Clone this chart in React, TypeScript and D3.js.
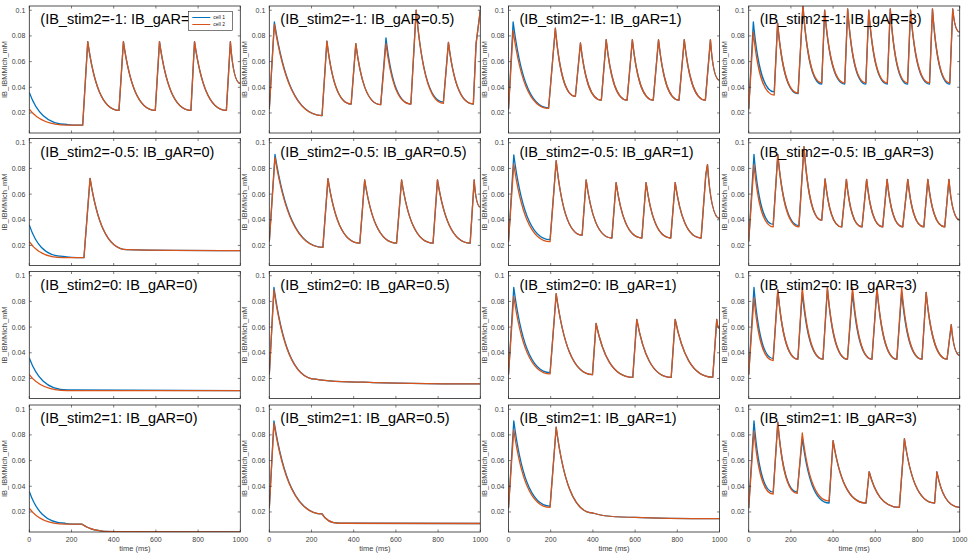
import * as d3 from 'd3';

type P = [number, number];

// panel titles
const stimLevels = ['-1', '-0.5', '0', '1'];
const garLevels = ['0', '0.5', '1', '3'];
const yTicks = [0.02, 0.04, 0.06, 0.08, 0.1];
const xTicks = [0, 200, 400, 600, 800, 1000];

// cell 2 key points [time ms, value]; cell 1 overrides at the same times
const r1c1: P[] = [[0,0.023],[180,0.0105],[253,0.0105],[277,0.0755],[425,0.022],[446,0.0755],[597,0.022],[617,0.0755],[766,0.022],[783,0.0755],[934,0.022],[953,0.0755],[1000,0.043]];
const r1c1b: P[] = [[0,0.036],[180,0.011]];
const r1c2: P[] = [[0,0.023],[24,0.089],[250,0.018],[273,0.076],[388,0.027],[410,0.074],[528,0.0265],[553,0.074],[671,0.027],[696,0.1],[825,0.0275],[849,0.075],[967,0.027],[980,0.074],[1000,0.1]];
const r1c2b: P[] = [[24,0.091],[553,0.0785],[825,0.0285]];
const r1c3: P[] = [[0,0.023],[22,0.084],[190,0.0235],[222,0.086],[317,0.033],[341,0.0745],[440,0.03],[463,0.077],[562,0.03],[587,0.077],[686,0.03],[711,0.077],[808,0.03],[833,0.077],[933,0.03],[957,0.077],[1000,0.0455]];
const r1c3b: P[] = [[22,0.091],[190,0.024]];
const r1c4: P[] = [[0,0.023],[22,0.083],[121,0.034],[137,0.09],[234,0.0355],[257,0.104],[346,0.0435],[360,0.1],[455,0.0435],[469,0.101],[555,0.0435],[569,0.1],[657,0.0435],[671,0.101],[753,0.0435],[767,0.1],[857,0.0435],[871,0.101],[953,0.0435],[967,0.101],[1000,0.083]];
const r1c4b: P[] = [[22,0.091],[121,0.0365],[234,0.035],[346,0.0425],[455,0.0425],[555,0.0425],[657,0.0425],[753,0.0425],[857,0.0425],[953,0.0425]];

const r2c1: P[] = [[0,0.023],[160,0.0105],[259,0.0105],[288,0.0723],[462,0.0167],[1000,0.016]];
const r2c1b: P[] = [[0,0.036],[160,0.0115]];
const r2c2: P[] = [[0,0.023],[27,0.0885],[254,0.0185],[278,0.072],[429,0.0218],[452,0.071],[603,0.0218],[627,0.071],[776,0.0218],[797,0.071],[952,0.0218],[971,0.071],[1000,0.05]];
const r2c2b: P[] = [[27,0.091]];
const r2c3: P[] = [[0,0.023],[25,0.0833],[197,0.023],[226,0.086],[349,0.028],[368,0.071],[490,0.0258],[510,0.069],[632,0.0258],[652,0.069],[769,0.0258],[790,0.069],[913,0.0258],[935,0.075],[943,0.083],[1000,0.041]];
const r2c3b: P[] = [[25,0.0905],[197,0.0245]];
const r2c4: P[] = [[0,0.023],[25,0.083],[116,0.0345],[138,0.091],[238,0.0345],[262,0.097],[346,0.0397],[362,0.0718],[441,0.0345],[463,0.0715],[537,0.0345],[559,0.0715],[635,0.0345],[656,0.0715],[730,0.0345],[754,0.0715],[830,0.0345],[849,0.0715],[929,0.0345],[949,0.0715],[1000,0.04]];
const r2c4b: P[] = [[25,0.091],[116,0.0364],[238,0.0355]];

const r3c1: P[] = [[0,0.023],[180,0.0105],[1000,0.0105]];
const r3c1b: P[] = [[0,0.036],[180,0.011]];
const r3c2: P[] = [[0,0.023],[22,0.089],[220,0.0195],[450,0.0172],[1000,0.0158]];
const r3c2b: P[] = [[22,0.091]];
const r3c3: P[] = [[0,0.023],[25,0.084],[197,0.0235],[226,0.086],[398,0.023],[415,0.0628],[589,0.0208],[608,0.066],[771,0.0208],[790,0.066],[968,0.021],[987,0.066],[1000,0.059]];
const r3c3b: P[] = [[25,0.091],[197,0.0245]];
const r3c4: P[] = [[0,0.023],[25,0.083],[116,0.034],[138,0.089],[233,0.035],[254,0.091],[352,0.035],[373,0.091],[468,0.035],[492,0.091],[584,0.035],[608,0.091],[702,0.035],[725,0.091],[821,0.035],[841,0.087],[940,0.035],[960,0.062],[1000,0.038]];
const r3c4b: P[] = [[25,0.091],[116,0.0355],[254,0.087],[373,0.09],[492,0.087],[608,0.09],[725,0.087]];

const r4c1: P[] = [[0,0.023],[170,0.0105],[250,0.0105],[400,0.0046],[1000,0.0045]];
const r4c1b: P[] = [[0,0.036],[170,0.0112]];
const r4c2: P[] = [[0,0.023],[22,0.089],[250,0.0185],[330,0.0112],[1000,0.011]];
const r4c2b: P[] = [[22,0.091]];
const r4c3: P[] = [[0,0.023],[25,0.084],[197,0.0235],[226,0.086],[400,0.0192],[600,0.0158],[1000,0.0148]];
const r4c3b: P[] = [[25,0.091],[197,0.0245]];
const r4c4: P[] = [[0,0.023],[25,0.083],[116,0.034],[138,0.09],[230,0.0345],[254,0.0815],[381,0.0285],[400,0.0756],[556,0.027],[571,0.0513],[714,0.0236],[738,0.077],[881,0.027],[892,0.0513],[1000,0.0236]];
const r4c4b: P[] = [[25,0.091],[116,0.0355],[230,0.0355],[254,0.0774],[381,0.027]];

const cell2Grid = [[r1c1, r1c2, r1c3, r1c4], [r2c1, r2c2, r2c3, r2c4], [r3c1, r3c2, r3c3, r3c4], [r4c1, r4c2, r4c3, r4c4]];
const cell1Grid = [[r1c1b, r1c2b, r1c3b, r1c4b], [r2c1b, r2c2b, r2c3b, r2c4b], [r3c1b, r3c2b, r3c3b, r3c4b], [r4c1b, r4c2b, r4c3b, r4c4b]];

const lefts = [29.3, 269.3, 508.5, 748.7];
const tops = [6, 138.5, 271.5, 405];
const W = 211;
const H = 127;
const BLUE = '#0072BD';
const ORANGE = '#D95319';
const FONT = 'Liberation Sans, Arial, sans-serif';

const x = d3.scaleLinear().domain([0, 1000]).range([0, W]);
const y = d3.scaleLinear().domain([0.0044, 0.1033]).range([H, 0]);

// rises are straight, decays are drawn as concave curves
function tracePath(pts: P[]) {
  const p = d3.path();
  pts.forEach(([t, v], i) => {
    const px = x(t), py = y(v);
    if (i === 0) { p.moveTo(px, py); return; }
    const [t0, v0] = pts[i - 1];
    const x0 = x(t0), y0 = y(v0);
    if (v >= v0) p.lineTo(px, py);
    else {
      const dx = px - x0, dy = py - y0;
      p.bezierCurveTo(x0 + 0.18 * dx, y0 + 0.58 * dy, x0 + 0.45 * dx, py, px, py);
    }
  });
  return p.toString();
}

function merge(base: P[], over: P[]): P[] {
  return base.map(([t, v]) => {
    const o = over.find((q) => q[0] === t);
    return [t, o ? o[1] : v] as P;
  });
}

export default function App() {
  return (
    <svg width={969} height={559} style={{ position: 'absolute', left: 0, top: 0, background: '#fff' }} fontFamily={FONT}>
      <rect width={969} height={559} fill="#fff" />
      {stimLevels.map((s, r) =>
        garLevels.map((g, c) => {
          const id = `clip-${r}-${c}`;
          const c2 = cell2Grid[r][c];
          const c1 = merge(c2, cell1Grid[r][c]);
          return (
            <g key={id} transform={`translate(${lefts[c]},${tops[r]})`}>
              <clipPath id={id}><rect width={W} height={H} /></clipPath>
              <rect width={W} height={H} fill="#fff" />
              <g clipPath={`url(#${id})`}>
                <path d={tracePath(c1)} fill="none" stroke={BLUE} strokeWidth={1.3} strokeLinejoin="round" />
                <path d={tracePath(c2)} fill="none" stroke={ORANGE} strokeWidth={1.3} strokeLinejoin="round" />
              </g>
              {yTicks.map((t) => (
                <g key={t}>
                  <line x1={0} x2={2.5} y1={y(t)} y2={y(t)} stroke="#262626" strokeWidth={0.6} />
                  <line x1={W} x2={W - 2.5} y1={y(t)} y2={y(t)} stroke="#262626" strokeWidth={0.6} />
                  <text x={-4} y={y(t) + 2.5} fontSize={7} fill="#404040" textAnchor="end">{t === 0.1 ? '0.1' : t.toFixed(2)}</text>
                </g>
              ))}
              {xTicks.map((t) => (
                <g key={t}>
                  <line x1={x(t)} x2={x(t)} y1={H} y2={H - 2.5} stroke="#262626" strokeWidth={0.6} />
                  <line x1={x(t)} x2={x(t)} y1={0} y2={2.5} stroke="#262626" strokeWidth={0.6} />
                  {r === 3 && <text x={x(t)} y={H + 10} fontSize={7} fill="#404040" textAnchor="middle">{t}</text>}
                </g>
              ))}
              {r === 3 && <text x={W / 2} y={H + 19} fontSize={7.5} fill="#404040" textAnchor="middle">time (ms)</text>}
              <text transform={`translate(-22,${H / 2}) rotate(-90)`} fontSize={7.5} fill="#404040" textAnchor="middle">IB_IBMMich_mM</text>
              <rect width={W} height={H} fill="none" stroke="#262626" strokeWidth={0.8} />
              <text x={11} y={18} fontSize={14.5} fill="#000">{`(IB_stim2=${s}: IB_gAR=${g})`}</text>
              {r === 0 && c === 0 && (
                <g transform="translate(159,5.5)">
                  <rect width={44} height={19} fill="#fff" stroke="#262626" strokeWidth={0.6} />
                  <line x1={4} x2={22} y1={6} y2={6} stroke={BLUE} strokeWidth={1} />
                  <line x1={4} x2={22} y1={13} y2={13} stroke={ORANGE} strokeWidth={1} />
                  <text x={25} y={7.8} fontSize={5} fill="#222">cell 1</text>
                  <text x={25} y={14.8} fontSize={5} fill="#222">cell 2</text>
                </g>
              )}
            </g>
          );
        })
      )}
    </svg>
  );
}
